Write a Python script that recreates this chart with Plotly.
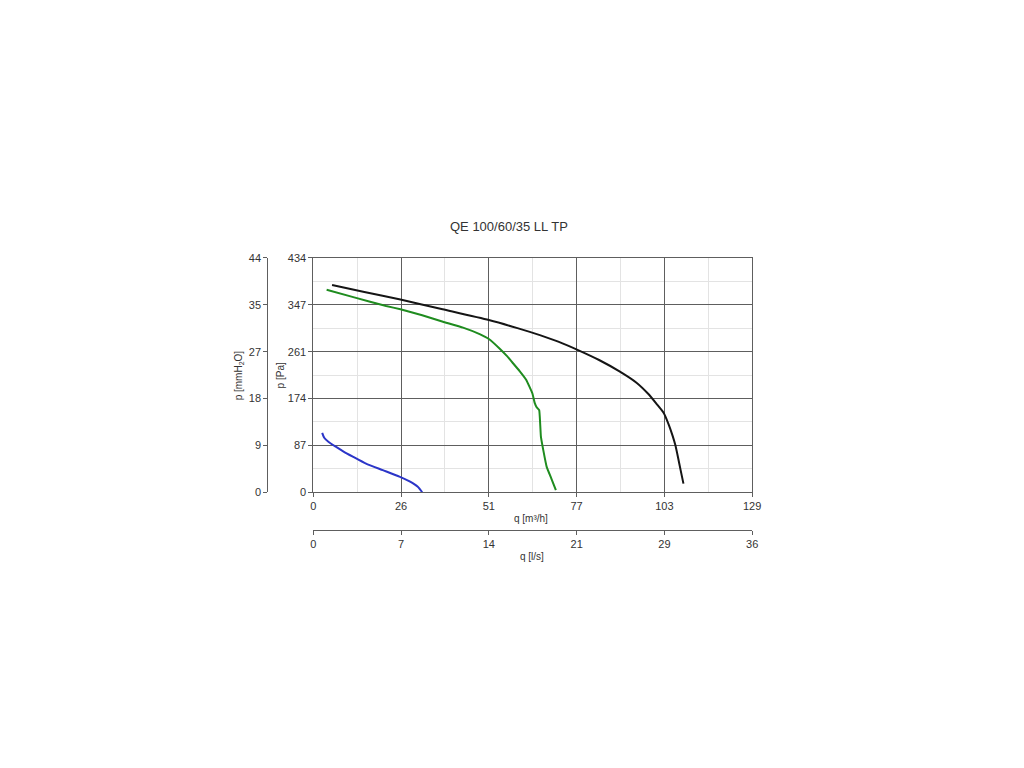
import plotly.graph_objects as go

# --- data (q in m3/h, p in Pa) ---
black_q = [5.5, 15.0, 25.6, 38.0, 51.6, 60.0, 66.6, 72.0, 78.3, 84.0, 90.0, 95.0, 98.5, 101.0, 103.0, 104.5, 105.6, 106.4, 107.2, 108.0, 108.8]
black_p = [384, 371, 357, 339, 319, 304, 291, 279, 262, 245, 224, 203, 182, 163, 147, 125, 105, 88, 65, 40, 16]

green_q = [3.9, 12.0, 21.4, 25.6, 32.0, 38.1, 44.0, 48.9, 51.6, 54.8, 56.8, 58.7, 60.7, 62.6, 64.4, 65.1, 65.6, 66.4, 66.7, 66.9, 67.6, 68.6, 70.0, 71.3]
green_p = [375, 361, 345, 339, 328, 316, 305, 293, 284, 266, 253, 239, 224, 208, 183, 165, 158, 152, 125, 103, 78, 47, 25, 4]

blue_q = [2.6, 3.2, 4.5, 6.7, 9.0, 11.6, 15.5, 20.4, 25.3, 28.3, 30.7, 32.0]
blue_p = [110, 101, 93, 84, 75, 66, 53, 41, 29, 20, 10, 0]

q_ticks = [0, 25.8, 51.6, 77.4, 103.2, 129]
q_labels = ["0", "26", "51", "77", "103", "129"]
ls_ticks = [0, 7.17, 14.33, 21.5, 28.67, 35.83]
ls_labels = ["0", "7", "14", "21", "29", "36"]
pa_ticks = [0, 86.8, 173.6, 260.4, 347.2, 434]
pa_labels = ["0", "87", "174", "261", "347", "434"]
mm_ticks = [0, 8.85, 17.7, 26.55, 35.4, 44.25]
mm_labels = ["0", "9", "18", "27", "35", "44"]

W, H = 1008, 752
# mapping from target screen pixel to figure pixel (measured)
SX, AXO = 0.9863, 12.2
SY, AYO = 0.9829, 14.3
def px(x): return ((x - AXO) / SX) / W
def py(y): return 1 - ((y - AYO) / SY) / H

FONT = "Liberation Sans, Arial, sans-serif"
TXT = "#333333"
AX = "#5e5e5e"

fig = go.Figure()
fig.add_trace(go.Scatter(x=black_q, y=black_p, mode="lines", line=dict(color="#151515", width=2, shape="spline", smoothing=0.6), showlegend=False))
fig.add_trace(go.Scatter(x=green_q, y=green_p, mode="lines", line=dict(color="#1f8c1f", width=2, shape="spline", smoothing=0.3), showlegend=False))
fig.add_trace(go.Scatter(x=blue_q, y=blue_p, mode="lines", line=dict(color="#2b35c8", width=2, shape="spline", smoothing=0.5), showlegend=False))
# invisible traces to bind the secondary axes
fig.add_trace(go.Scatter(x=[0, 35.83], y=[0, 0], xaxis="x2", yaxis="y", mode="lines", line=dict(width=0), hoverinfo="skip", showlegend=False, opacity=0))
fig.add_trace(go.Scatter(x=[0, 0], y=[0, 44.25], xaxis="x", yaxis="y2", mode="lines", line=dict(width=0), hoverinfo="skip", showlegend=False, opacity=0))

x0, x1 = px(314), px(752)
y0, y1 = py(492), py(258)

tickfont = dict(family=FONT, size=11, color=TXT)

def ann(text, x, y, size, angle=0):
    return dict(text=text, x=px(x), y=py(y), xref="paper", yref="paper", xanchor="center", yanchor="middle",
                textangle=angle, showarrow=False, font=dict(family=FONT, size=size, color=TXT))

fig.update_layout(
    width=W, height=H,
    margin=dict(l=0, r=0, t=0, b=0),
    paper_bgcolor="white", plot_bgcolor="white",
    xaxis=dict(domain=[x0, x1], range=[0, 129], tickmode="array", tickvals=q_ticks, ticktext=q_labels,
               showgrid=True, gridcolor=AX, gridwidth=1, zeroline=False,
               showline=True, linecolor=AX, mirror=True, ticks="outside", ticklen=4, tickcolor=AX,
               tickfont=tickfont, anchor="y",
               minor=dict(tickmode="linear", tick0=12.9, dtick=25.8, showgrid=True, gridcolor="#e3e3e3", ticks="")),
    yaxis=dict(domain=[y0, y1], range=[0, 434], tickmode="array", tickvals=pa_ticks, ticktext=pa_labels,
               showgrid=True, gridcolor=AX, gridwidth=1, zeroline=False,
               showline=True, linecolor=AX, mirror=True, ticks="outside", ticklen=4, tickcolor=AX,
               tickfont=tickfont, anchor="x",
               minor=dict(tickmode="linear", tick0=43.4, dtick=86.8, showgrid=True, gridcolor="#e3e3e3", ticks="")),
    xaxis2=dict(overlaying="x", anchor="free", position=py(530), side="bottom", range=[0, 35.83],
                tickmode="array", tickvals=ls_ticks, ticktext=ls_labels, showgrid=False, zeroline=False,
                showline=True, linecolor=AX, ticks="outside", ticklen=4, tickcolor=AX,
                tickfont=tickfont),
    yaxis2=dict(overlaying="y", anchor="free", position=px(268), side="left", range=[0, 44.25],
                tickmode="array", tickvals=mm_ticks, ticktext=mm_labels, showgrid=False, zeroline=False,
                showline=True, linecolor=AX, ticks="outside", ticklen=4, tickcolor=AX,
                tickfont=tickfont),
    annotations=[
        ann("QE 100/60/35 LL TP", 509, 227, 13),
        ann("q [m³/h]", 531, 518, 10),
        ann("q [l/s]", 532, 556, 10),
        ann("p [Pa]", 281, 375, 10, -90),
        ann("p [mmH<sub>2</sub>O]", 240, 375, 10, -90),
    ],
)

fig.write_html("out.html")
